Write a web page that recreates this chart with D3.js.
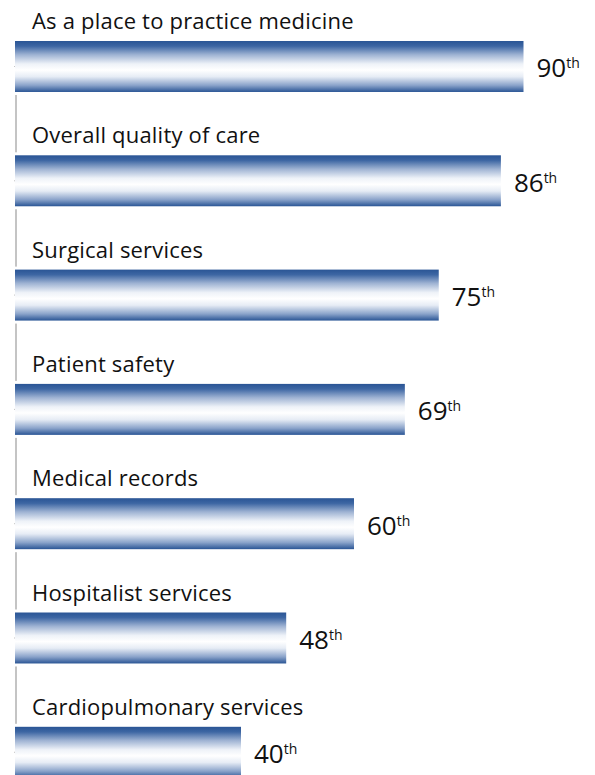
<!DOCTYPE html>
<html><head><meta charset="utf-8">
<script src="https://cdn.jsdelivr.net/npm/d3@7"></script>
<style>html,body{margin:0;padding:0;background:#fff;overflow:hidden}</style>
</head><body>
<svg id="chart" width="595" height="775"></svg>
<script>
const categories = ["As a place to practice medicine","Overall quality of care","Surgical services","Patient safety","Medical records","Hospitalist services","Cardiopulmonary services"];
const values = [90, 86, 75, 69, 60, 48, 40];
const suffixes = ["th","th","th","th","th","th","th"];

const svg = d3.select("#chart");
const FONT = "'Open Sans', Lato, sans-serif";

const defs = svg.append("defs");
const grad = defs.append("linearGradient").attr("id","barGrad").attr("x1",0).attr("y1",0).attr("x2",0).attr("y2",1);
[[0,"#2a5595"],[0.1,"#3d66a3"],[0.27,"#9fb3d3"],[0.45,"#eef2f8"],[0.57,"#ffffff"],[0.7,"#e6ecf5"],[0.87,"#8aa3ca"],[1,"#2a5595"]]
  .forEach(([o,c])=>grad.append("stop").attr("offset",o).attr("stop-color",c));

const x = d3.scaleLinear().domain([0,100]).range([15,580]);
const pInner = 0.554, step = 114.3;
const y = d3.scaleBand().domain(categories).range([41, 41 + step*(categories.length - pInner)]).paddingInner(pInner).paddingOuter(0);

// axis line
const axis = d3.axisLeft(y).tickSize(2).tickFormat("");
const ax = svg.append("g").attr("transform","translate(16,0)").call(axis);
ax.select(".domain").attr("stroke","#c4c4c4").attr("stroke-width",2)
  .attr("d", `M0,${y(categories[0])+y.bandwidth()}V${y(categories[categories.length-1])}`);
ax.selectAll(".tick line").attr("stroke","#c4c4c4");

const data = categories.map((c,i)=>({c, v:values[i], s:suffixes[i]}));
const g = svg.append("g");
g.selectAll("rect.gap").data(data).join("rect").attr("class","gap")
  .attr("x", x(0)).attr("y", d=>y(d.c)-3).attr("width", d=>x(d.v)-x(0)).attr("height", y.bandwidth()+6).attr("fill","#fff");
g.selectAll("rect.bar").data(data).join("rect").attr("class","bar")
  .attr("x", x(0)).attr("y", d=>y(d.c)).attr("width", d=>x(d.v)-x(0)).attr("height", y.bandwidth()).attr("fill","url(#barGrad)");

g.selectAll("text.cat").data(data).join("text").attr("class","cat")
  .attr("x", 32).attr("y", d=>y(d.c)-12)
  .attr("font-family",FONT).attr("font-size",22).attr("letter-spacing",0.2).attr("fill","#111")
  .text(d=>d.c);

const vt = g.selectAll("text.val").data(data).join("text").attr("class","val")
  .attr("x", d=>x(d.v)+13).attr("y", d=>y(d.c)+y.bandwidth()/2+11)
  .attr("font-family",FONT).attr("font-size",26).attr("fill","#111");
vt.append("tspan").text(d=>d.v);
vt.append("tspan").attr("font-size",14).attr("dy",-9).text(d=>d.s);
</script>
</body></html>
